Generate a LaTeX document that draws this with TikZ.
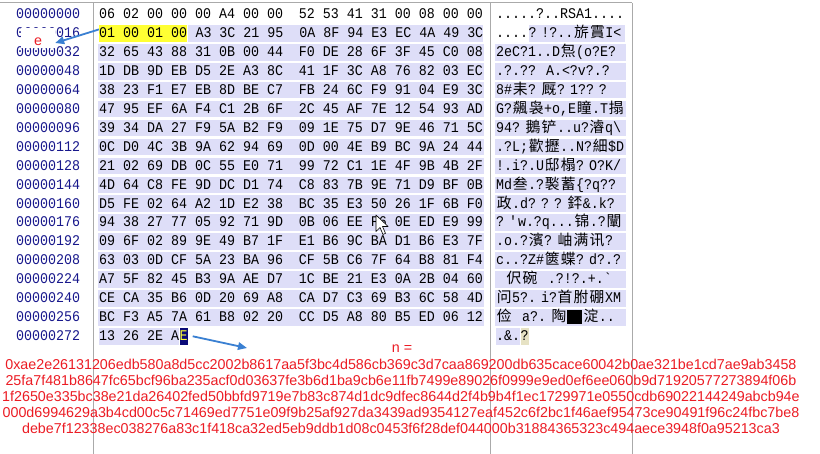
\documentclass[tikz,border=0pt]{standalone}
\usepackage{fontspec}
\usetikzlibrary{positioning,arrows.meta}
\newfontfamily\hexfont[FakeStretch=0.9]{Liberation Mono}
\newfontfamily\cjkfont{Noto Sans CJK SC}
\newfontfamily\redfont{Liberation Sans}
\definecolor{lav}{RGB}{222,222,248}
\definecolor{offblue}{RGB}{24,24,140}
\definecolor{selyel}{RGB}{255,255,51}
\definecolor{selnavy}{RGB}{10,10,120}
\definecolor{selcar}{RGB}{230,226,196}
\definecolor{nred}{RGB}{236,28,36}
\definecolor{arrblue}{RGB}{58,128,210}
\definecolor{panegray}{RGB}{170,170,170}
\newcommand\hexsize{\fontsize{14.8pt}{16pt}\selectfont}
\newcommand\cj[1]{\makebox[16pt]{\cjkfont #1}}
\newcommand\blk{\makebox[16pt]{\rule[-2pt]{15pt}{14pt}}}
\begin{document}
\begin{tikzpicture}[x=1pt,y=-1pt,
  hx/.style={anchor=base west,inner xsep=1.5pt,inner ysep=0pt,text height=12.6pt,text depth=4pt,font=\hexfont\hexsize},
  hxb/.style={hx,fill=lav},
  off/.style={hx,text=offblue},
  asc/.style={hxb,text width=128pt,align=left},
  ann/.style={font=\redfont\fontsize{14.3pt}{16pt}\selectfont,text=nred,inner sep=0pt},
  pane/.style={panegray,line width=1pt},
  marker/.style={arrblue,line width=1.8pt,-{Triangle[length=9pt,width=7.5pt]}}]
 \fill[white] (0,0) rectangle (820,454);
 \useasboundingbox (0,0) rectangle (820,454);
 \draw[pane] (0,3) -- (632,3);
 \draw[pane] (93,3) -- (93,454);
 \draw[pane] (490,3) -- (490,454);
 \draw[pane] (632,3) -- (632,454);
 \node[off] (o0) at (14.5,18.8) {00000000};
 \node[off] (o1) at (14.5,37.7) {00000016};
 \node[off] (o2) at (14.5,56.7) {00000032};
 \node[off] (o3) at (14.5,75.6) {00000048};
 \node[off] (o4) at (14.5,94.5) {00000064};
 \node[off] (o5) at (14.5,113.5) {00000080};
 \node[off] (o6) at (14.5,132.4) {00000096};
 \node[off] (o7) at (14.5,151.3) {00000112};
 \node[off] (o8) at (14.5,170.2) {00000128};
 \node[off] (o9) at (14.5,189.2) {00000144};
 \node[off] (o10) at (14.5,208.1) {00000160};
 \node[off] (o11) at (14.5,227.0) {00000176};
 \node[off] (o12) at (14.5,246.0) {00000192};
 \node[off] (o13) at (14.5,264.9) {00000208};
 \node[off] (o14) at (14.5,283.8) {00000224};
 \node[off] (o15) at (14.5,302.8) {00000240};
 \node[off] (o16) at (14.5,321.7) {00000256};
 \node[off] (o17) at (14.5,340.6) {00000272};
 \node[hx] (h0) at (97.5,18.8) {06 02 00 00 00 A4 00 00\ \ 52 53 41 31 00 08 00 00};
 \node[hx,fill=selyel,inner xsep=0pt] (h1a) at (99,37.7) {01 00 01 00};
 \node[hxb,inner xsep=0pt,right=0pt of h1a] (h1b) {\ A3 3C 21 95\ \ 0A 8F 94 E3 EC 4A 49 3C};
 \node[hxb] (h2) at (97.5,56.7) {32 65 43 88 31 0B 00 44\ \ F0 DE 28 6F 3F 45 C0 08};
 \node[hxb] (h3) at (97.5,75.6) {1D DB 9D EB D5 2E A3 8C\ \ 41 1F 3C A8 76 82 03 EC};
 \node[hxb] (h4) at (97.5,94.5) {38 23 F1 E7 EB 8D BE C7\ \ FB 24 6C F9 91 04 E9 3C};
 \node[hxb] (h5) at (97.5,113.5) {47 95 EF 6A F4 C1 2B 6F\ \ 2C 45 AF 7E 12 54 93 AD};
 \node[hxb] (h6) at (97.5,132.4) {39 34 DA 27 F9 5A B2 F9\ \ 09 1E 75 D7 9E 46 71 5C};
 \node[hxb] (h7) at (97.5,151.3) {0C D0 4C 3B 9A 62 94 69\ \ 0D 00 4E B9 BC 9A 24 44};
 \node[hxb] (h8) at (97.5,170.2) {21 02 69 DB 0C 55 E0 71\ \ 99 72 C1 1E 4F 9B 4B 2F};
 \node[hxb] (h9) at (97.5,189.2) {4D 64 C8 FE 9D DC D1 74\ \ C8 83 7B 9E 71 D9 BF 0B};
 \node[hxb] (h10) at (97.5,208.1) {D5 FE 02 64 A2 1D E2 38\ \ BC 35 E3 50 26 1F 6B F0};
 \node[hxb] (h11) at (97.5,227.0) {94 38 27 77 05 92 71 9D\ \ 0B 06 EE F6 0E ED E9 99};
 \node[hxb] (h12) at (97.5,246.0) {09 6F 02 89 9E 49 B7 1F\ \ E1 B6 9C BA D1 B6 E3 7F};
 \node[hxb] (h13) at (97.5,264.9) {63 03 0D CF 5A 23 BA 96\ \ CF 5B C6 7F 64 B8 81 F4};
 \node[hxb] (h14) at (97.5,283.8) {A7 5F 82 45 B3 9A AE D7\ \ 1C BE 21 E3 0A 2B 04 60};
 \node[hxb] (h15) at (97.5,302.8) {CE CA 35 B6 0D 20 69 A8\ \ CA D7 C3 69 B3 6C 58 4D};
 \node[hxb] (h16) at (97.5,321.7) {BC F3 A5 7A 61 B8 02 20\ \ CC D5 A8 80 B5 ED 06 12};
 \node[hxb,inner xsep=0pt] (h17a) at (99,340.6) {13 26 2E A};
 \node[hx,fill=selnavy,text=selyel,inner xsep=0pt,right=0pt of h17a] (h17b) {E};
 \node[hx] (a0) at (494.5,18.8) {.....?..RSA1....};
 \node[hx,inner xsep=0pt] (a1a) at (496,37.7) {....};
 \node[asc,text width=96pt,inner xsep=0pt,right=0pt of a1a] (a1b) {?\ !?..\cj{旂}\cj{霣}I<};
 \node[asc] (a2) at (494.5,56.7) {2eC?1..D\cj{炰}(o?E?};
 \node[asc] (a3) at (494.5,75.6) {.?.??\ \ A.<?v?.?};
 \node[asc] (a4) at (494.5,94.5) {8\#\cj{耒}?\ \cj{厩}?\ 1??\ ?};
 \node[asc] (a5) at (494.5,113.5) {G?\cj{飆}\cj{袅}+o,E\cj{瞳}.T\cj{搨}};
 \node[asc] (a6) at (494.5,132.4) {94?\ \cj{鵝}\cj{铲}..u?\cj{濬}q\textbackslash};
 \node[asc] (a7) at (494.5,151.3) {.?L;\cj{歡}\cj{攊}..N?\cj{細}\$D};
 \node[asc] (a8) at (494.5,170.2) {!.i?.U\cj{邸}\cj{榻}?\ O?K/};
 \node[asc] (a9) at (494.5,189.2) {Md\cj{叁}.?\cj{褧}\cj{蓄}\{?q??};
 \node[asc] (a10) at (494.5,208.1) {\cj{政}.d?\ ?\ ?\ \cj{銔}\&.k?};
 \node[asc] (a11) at (494.5,227.0) {?\ \textquotesingle w.?q...\cj{锦}.?\cj{闡}};
 \node[asc] (a12) at (494.5,246.0) {.o.?\cj{濱}?\ \cj{岫}\cj{满}\cj{讯}?};
 \node[asc] (a13) at (494.5,264.9) {c..?Z\#\cj{篋}\cj{蝶}?\ d?.?};
 \node[asc] (a14) at (494.5,283.8) {\ \ \cj{伬}\cj{碗}\ \ .?!?.+.\textasciigrave};
 \node[asc] (a15) at (494.5,302.8) {\cj{问}5?.\ i?\cj{首}\cj{胕}\cj{硼}XM};
 \node[asc] (a16) at (494.5,321.7) {\cj{俭}\ \ a?.\ \cj{陶}\blk\cj{淀}..};
 \node[hxb,inner xsep=0pt] (a17a) at (496,340.6) {.\&.};
 \node[hx,fill=selcar,inner xsep=0pt,right=0pt of a17a] (a17b) {?};
 \node[ann,fill=white,minimum width=34pt,minimum height=20pt,text height=16pt,text depth=0pt] (elab) at (38,38) {e};
 \draw[black,fill=white,line width=0.6pt,line join=round] (376,215) -- ++(0,16.5) -- ++(4,-4) -- ++(3,7) -- ++(2.5,-1.2) -- ++(-3,-6.8) -- ++(5.6,0) -- cycle;
 \coordinate (narr) at (247,348);
 \draw[marker] ([yshift=4pt]h1a.west) -- ([yshift=-5pt]elab.east);
 \draw[marker] ([xshift=5pt]h17b.east) -- (narr);
 \node[ann,anchor=base] (nlab) at (402,353) {n =};
 \node[ann,anchor=base] (n1) at (401,370) {0xae2e26131206edb580a8d5cc2002b8617aa5f3bc4d586cb369c3d7caa869200db635cace60042b0ae321be1cd7ae9ab3458};
 \node[ann,anchor=base] (n2) at (401,386) {25fa7f481b8647fc65bcf96ba235acf0d03637fe3b6d1ba9cb6e11fb7499e89026f0999e9ed0ef6ee060b9d71920577273894f06b};
 \node[ann,anchor=base] (n3) at (401,402) {1f2650e335bc38e21da26402fed50bbfd9719e7b83c874d1dc9dfec8644d2f4b9b4f1ec1729971e0550cdb69022144249abcb94e};
 \node[ann,anchor=base] (n4) at (401,418) {000d6994629a3b4cd00c5c71469ed7751e09f9b25af927da3439ad9354127eaf452c6f2bc1f46aef95473ce90491f96c24fbc7be8};
 \node[ann,anchor=base] (n5) at (401,434) {debe7f12338ec038276a83c1f418ca32ed5eb9ddb1d08c0453f6f28def044000b31884365323c494aece3948f0a95213ca3};
\end{tikzpicture}
\end{document}
